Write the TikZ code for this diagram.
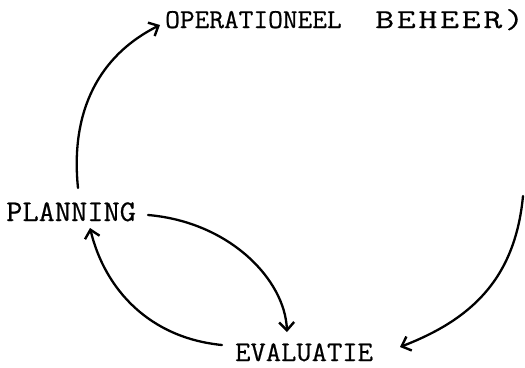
\documentclass[tikz,border=0pt]{standalone}
\usetikzlibrary{arrows.meta}
\usepackage{fontspec}
% typewriter face, slightly widened and darkened
\newfontfamily\typer[FakeStretch=1.05,FakeBold=0.6]{Latin Modern Mono}
\newfontfamily\typerwide[FakeStretch=1.35,FakeBold=0.6,LetterSpace=10]{Latin Modern Mono}
\tikzset{
  label text/.style={inner sep=0pt, anchor=base west, font=\typer\fontsize{27.2}{27.2}\selectfont},
  flow/.style={line width=2.3pt, line cap=round, -{Straight Barb[length=8pt,width=15pt,line width=2.4pt]}}
}
\begin{document}
\begin{tikzpicture}[x=1pt,y=-1pt]
\useasboundingbox (0,0) rectangle (525,367);
% labels of the cycle
\node[label text] (op) at (165,28) {OPERATIONEEL};
\node[label text, font=\typerwide\fontsize{27.2}{27.2}\selectfont] (beh) at (375,28) {BEHEER)};
\node[label text, font=\typer\fontsize{30}{30}\selectfont] (plan) at (6,221) {PLANNING};
\node[label text, font=\typer\fontsize{28.3}{28.3}\selectfont] (eval) at (235,361) {EVALUATIE};
\coordinate (rtop) at (523,196);
% connectors
\draw[flow] ([shift={(72,-33)}]plan.base west) .. controls (70,110) and (100,55) .. ([shift={(-5,-3)}]op.base west);
\draw[flow] ([shift={(142,-6)}]plan.base west) .. controls (230,222) and (285,280) .. ([shift={(52,-29)}]eval.base west);
\draw[flow] ([shift={(-13,-16)}]eval.base west) .. controls (150,338) and (105,290) .. ([shift={(84,7)}]plan.base west);
\draw[flow] (rtop) .. controls (515,280) and (470,320) .. ([shift={(165,-14)}]eval.base west);
\end{tikzpicture}
\end{document}
